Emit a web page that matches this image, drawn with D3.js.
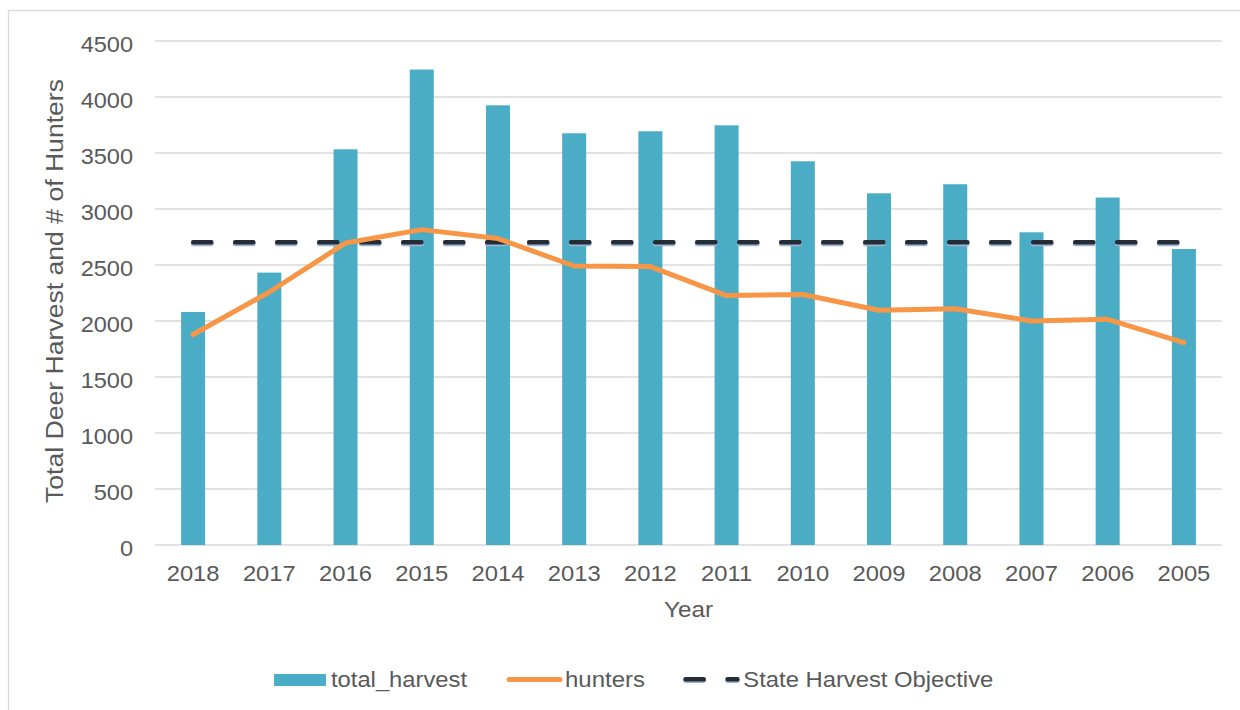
<!DOCTYPE html>
<html>
<head>
<meta charset="utf-8">
<script src="https://cdn.jsdelivr.net/npm/d3@7"></script>
<style>
  html, body { margin: 0; padding: 0; background: #ffffff; }
  svg { display: block; }
  text { font-family: "Liberation Sans", Arial, sans-serif; fill: #595959; }
</style>
</head>
<body>
<svg id="chart" width="1240" height="710"></svg>
<script>
// Deer harvest by season, newest first
const years = ["2018", "2017", "2016", "2015", "2014", "2013", "2012", "2011", "2010", "2009", "2008", "2007", "2006", "2005"];
const totalHarvest = [2080, 2432, 3533, 4245, 3926, 3676, 3694, 3747, 3426, 3140, 3221, 2792, 3102, 2643];
const hunters = [1879, 2259, 2696, 2816, 2736, 2491, 2486, 2227, 2236, 2096, 2110, 2000, 2015, 1807];
const stateObjective = [2700, 2700, 2700, 2700, 2700, 2700, 2700, 2700, 2700, 2700, 2700, 2700, 2700, 2700];
const yTicks = [0, 500, 1000, 1500, 2000, 2500, 3000, 3500, 4000, 4500];
const legendLabels = ["total_harvest", "hunters", "State Harvest Objective"];

const BAR = "#4BACC6", LINE = "#F79646", DASH = "#262c36", GRID = "#d9d9d9";

const svg = d3.select("#chart");

// outer chart border
svg.append("rect")
  .attr("x", 8.5).attr("y", 10.5)
  .attr("width", 1240).attr("height", 710)
  .attr("fill", "none").attr("stroke", GRID).attr("stroke-width", 1.3);

const plotLeft = 155, plotRight = 1222, plotTop = 41, plotBottom = 545;

const x = d3.scaleBand().domain(years).range([plotLeft, plotRight])
  .paddingInner(0.685).paddingOuter(0.3425);
const y = d3.scaleLinear().domain([0, 4500]).range([plotBottom, plotTop]);
const cx = d => x(d) + x.bandwidth() / 2;

// horizontal gridlines (0 doubles as the category axis line)
svg.append("g").selectAll("line").data(yTicks).join("line")
  .attr("x1", plotLeft).attr("x2", plotRight)
  .attr("y1", d => y(d)).attr("y2", d => y(d))
  .attr("stroke", GRID).attr("stroke-width", 1.4);

// widen glyphs slightly, as the labels are drawn
function widen(sel, k) {
  sel.each(function () {
    const w = this.getComputedTextLength();
    d3.select(this).attr("textLength", w * k).attr("lengthAdjust", "spacingAndGlyphs");
  });
}

// y axis
const yAxis = svg.append("g").attr("transform", `translate(${plotLeft},0)`)
  .call(d3.axisLeft(y).tickValues(yTicks).tickSize(0).tickPadding(22).tickFormat(d3.format("d")));
yAxis.select(".domain").remove();
yAxis.selectAll("text").attr("font-size", 22).attr("dy", "0.47em")
  .style("font-family", "'Liberation Sans', Arial, sans-serif").attr("fill", "#595959");
widen(yAxis.selectAll("text"), 1.07);

// x axis
const xAxis = svg.append("g").attr("transform", `translate(0,${plotBottom})`)
  .call(d3.axisBottom(x).tickSize(0).tickPadding(20.7));
xAxis.select(".domain").remove();
xAxis.selectAll("text").attr("font-size", 22)
  .style("font-family", "'Liberation Sans', Arial, sans-serif").attr("fill", "#595959");
widen(xAxis.selectAll("text"), 1.08);

// bars
svg.append("g").selectAll("rect").data(years).join("rect")
  .attr("x", d => x(d))
  .attr("y", (d, i) => y(totalHarvest[i]))
  .attr("width", x.bandwidth())
  .attr("height", (d, i) => plotBottom - y(totalHarvest[i]))
  .attr("fill", BAR);

// state harvest objective (dashed, with soft blue underside)
const objLine = d3.line().x(d => cx(d[0])).y(d => y(d[1]));
const objPts = years.map((d, i) => [d, stateObjective[i]]);
svg.append("path").datum(objPts)
  .attr("d", objLine).attr("transform", "translate(0,1.3)")
  .attr("fill", "none").attr("stroke", "#9db4d3").attr("stroke-width", 4.6)
  .attr("stroke-linecap", "round").attr("stroke-dasharray", "18.3,23.7");
svg.append("path").datum(objPts)
  .attr("d", objLine).attr("transform", "translate(0,-0.3)")
  .attr("fill", "none").attr("stroke", DASH).attr("stroke-width", 4.4)
  .attr("stroke-linecap", "round").attr("stroke-dasharray", "18.3,23.7");

// hunters line
const hLine = d3.line().x(d => cx(d[0])).y(d => y(d[1]));
svg.append("path").datum(years.map((d, i) => [d, hunters[i]]))
  .attr("d", hLine)
  .attr("fill", "none").attr("stroke", LINE).attr("stroke-width", 5)
  .attr("stroke-linejoin", "round").attr("stroke-linecap", "round");

// axis titles
svg.append("text")
  .attr("transform", "translate(63.3,291) rotate(-90)")
  .attr("text-anchor", "middle").attr("font-size", 23)
  .attr("textLength", 424).attr("lengthAdjust", "spacingAndGlyphs")
  .text("Total Deer Harvest and # of Hunters");

svg.append("text")
  .attr("x", (plotLeft + plotRight) / 2).attr("y", 616.7)
  .attr("text-anchor", "middle").attr("font-size", 22)
  .attr("textLength", 49).attr("lengthAdjust", "spacingAndGlyphs")
  .text("Year");

// legend
const lg = svg.append("g");
const ly = 679.5, lb = 687.3;
lg.append("rect").attr("x", 274).attr("y", 674).attr("width", 52).attr("height", 12).attr("fill", BAR);
lg.append("text").attr("x", 331).attr("y", lb).attr("font-size", 22)
  .attr("textLength", 136).attr("lengthAdjust", "spacingAndGlyphs").text(legendLabels[0]);

lg.append("line").attr("x1", 509).attr("x2", 560).attr("y1", ly).attr("y2", ly)
  .attr("stroke", LINE).attr("stroke-width", 5).attr("stroke-linecap", "round");
lg.append("text").attr("x", 565).attr("y", lb).attr("font-size", 22)
  .attr("textLength", 80).attr("lengthAdjust", "spacingAndGlyphs").text(legendLabels[1]);

lg.append("line").attr("x1", 685.5).attr("x2", 737.5).attr("y1", ly + 1.3).attr("y2", ly + 1.3)
  .attr("stroke", "#9db4d3").attr("stroke-width", 4.6).attr("stroke-linecap", "round")
  .attr("stroke-dasharray", "18.3,23.7");
lg.append("line").attr("x1", 685.5).attr("x2", 737.5).attr("y1", ly - 0.3).attr("y2", ly - 0.3)
  .attr("stroke", DASH).attr("stroke-width", 4.4).attr("stroke-linecap", "round")
  .attr("stroke-dasharray", "18.3,23.7");
lg.append("text").attr("x", 743.3).attr("y", lb).attr("font-size", 22)
  .attr("textLength", 250).attr("lengthAdjust", "spacingAndGlyphs").text(legendLabels[2]);
</script>
</body>
</html>
